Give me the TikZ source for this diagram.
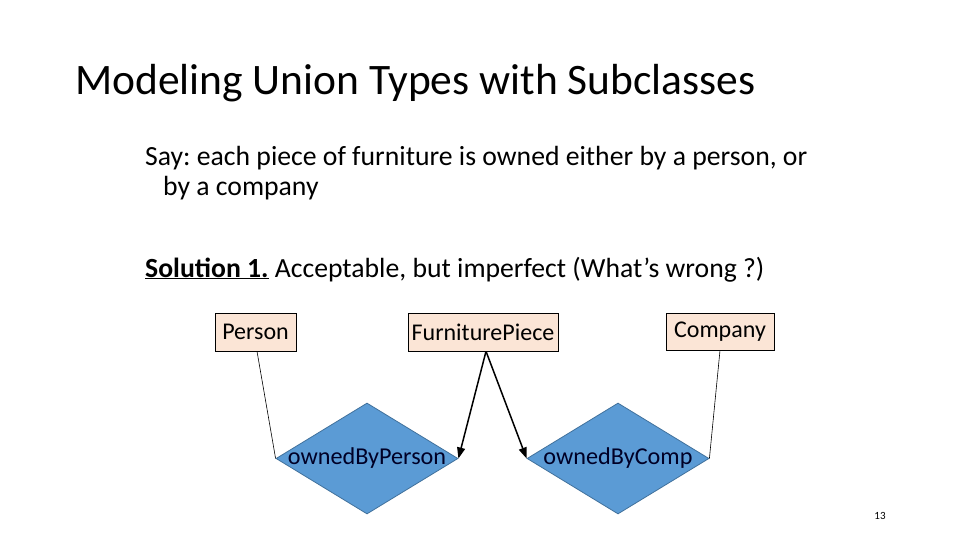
\documentclass[tikz,border=0pt]{standalone}
\usepackage{fontspec}
\setmainfont{Carlito}
\usetikzlibrary{shapes.geometric,arrows.meta}
\definecolor{boxfill}{HTML}{FBE5D6}
\definecolor{dfill}{HTML}{5B9BD5}
\definecolor{dline}{HTML}{41719C}
\frenchspacing
\tikzset{
  entity/.style={draw=black, fill=boxfill, line width=0.6pt, inner sep=0pt, minimum height=38pt, font=\fontsize{24}{28}\selectfont},
  rel/.style={diamond, draw=dline, fill=dfill, line width=0.8pt, inner sep=0pt, minimum width=182pt, minimum height=111pt, font=\fontsize{24.2}{28}\selectfont, text=black!85!blue},
  thin/.style={line width=0.6pt},
  arr/.style={line width=1.5pt, -{Triangle[length=11pt,width=8pt]}},
  txt/.style={anchor=base west, inner sep=0pt, font=\fontsize{27.7}{32}\selectfont}
}
\begin{document}
\begin{tikzpicture}[x=1pt,y=-1pt]
\useasboundingbox (0,0) rectangle (960,540);
\node[anchor=base west, inner sep=0pt, font=\fontsize{43.5}{50}\selectfont] (title) at (75,95) {Modeling Union Types with Subclasses};
\node[txt] (say1) at (145,165) {Say: each piece of furniture is owned either by a person, or};
\node[txt] (say2) at (163,195) {by a company};
\node[txt] (sol) at (145,277) {\underline{\textbf{Solution 1.}} Acceptable, but imperfect (What’s wrong ?)};
\node[entity, minimum width=81pt] (person) at (255.5,332) {Person};
\node[entity, minimum width=150pt] (fp) at (483,332) {FurniturePiece};
\node[entity, minimum width=108pt, minimum height=37pt] (comp) at (720,331.5) {Company};
\node[rel] (d1) at (367,458.5) {\makebox[0pt]{ownedByPerson}};
\node[rel] (d2) at (618,458.5) {\makebox[0pt]{ownedByComp}};
\draw[thin] ([xshift=1.5pt]person.south) -- (d1.west);
\draw[thin] (comp.south) -- (d2.east);
\draw[arr] ([xshift=3pt]fp.south) -- (d1.east);
\draw[arr] ([xshift=3pt]fp.south) -- (d2.west);
\node[anchor=base, inner sep=0pt, font=\fontsize{11}{13}\selectfont] (pg) at (880,519) {13};
\end{tikzpicture}
\end{document}
